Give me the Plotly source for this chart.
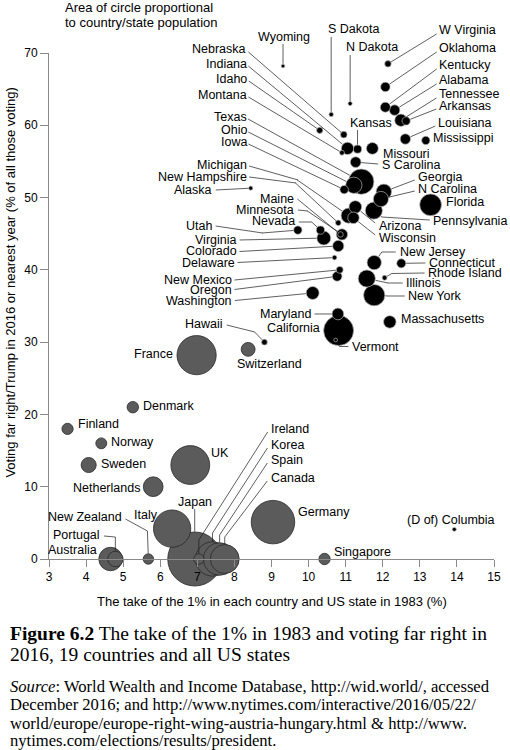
import math
import plotly.graph_objects as go

# ---------------- data ----------------
country_names = ["France", "Switzerland", "Denmark", "Finland", "Norway", "Sweden", "UK",
                 "Netherlands", "Italy", "Germany", "Australia", "Portugal", "New Zealand",
                 "Japan", "Ireland", "Korea", "Spain", "Canada", "Singapore"]
country_top1 = [6.98, 8.37, 5.26, 3.50, 4.41, 4.07, 6.81, 5.81, 6.32, 9.04, 4.66, 4.79, 5.68,
                6.93, 7.04, 7.41, 7.60, 7.74, 10.43]
country_vote = [28.2, 29.0, 21.0, 18.0, 16.0, 13.0, 13.0, 10.0, 4.2, 5.1, 0, 0, 0,
                0, 0, 0, 0, 0, 0]
country_pop = [66.9, 8.4, 5.7, 5.5, 5.2, 9.9, 65.6, 17.0, 60.6, 82.3, 24.1, 10.3, 4.7,
               127.0, 4.7, 51.2, 46.4, 36.3, 5.6]

state_names = ["Wyoming", "W Virginia", "Oklahoma", "Kentucky", "Alabama", "Tennessee", "Arkansas",
               "Louisiana", "Mississippi", "S Dakota", "N Dakota", "Nebraska", "Idaho", "Indiana",
               "Montana", "Kansas", "Missouri", "S Carolina", "Texas", "Ohio", "Iowa", "Alaska",
               "Georgia", "N Carolina", "Florida", "Pennsylvania", "Arizona", "Michigan", "Wisconsin",
               "New Hampshire", "Maine", "Minnesota", "Nevada", "Utah", "Virginia", "Colorado",
               "Delaware", "New Mexico", "Oregon", "Washington", "New Jersey", "Connecticut",
               "Rhode Island", "Illinois", "New York", "Massachusetts", "Maryland", "California",
               "Vermont", "Hawaii", "(D of) Columbia"]
state_top1 = [9.31, 12.14, 12.07, 12.07, 12.32, 12.49, 12.63,
              12.61, 13.16, 10.61, 11.12, 10.95, 10.30, 11.05,
              10.90, 11.32, 11.72, 11.27, 11.42, 11.22, 10.96, 8.44,
              12.03, 11.95, 13.29, 11.76, 11.26, 11.08, 11.21,
              10.80, 10.86, 10.90, 10.32, 9.71, 10.41, 10.80,
              10.70, 10.84, 10.77, 10.11, 11.77, 12.50,
              12.05, 11.57, 11.77, 12.19, 10.79, 10.81,
              10.73, 8.81, 13.93]
state_vote = [68.2, 68.5, 65.3, 62.5, 62.1, 60.7, 60.6,
              58.1, 57.9, 61.5, 63.0, 58.7, 59.3, 56.8,
              56.2, 56.7, 56.8, 54.9, 52.2, 51.7, 51.1, 51.3,
              50.8, 49.8, 49.0, 48.2, 48.7, 47.5, 47.2,
              46.5, 44.9, 44.9, 45.5, 45.5, 44.4, 43.3,
              41.7, 40.0, 39.1, 36.8, 41.0, 40.9,
              38.9, 38.8, 36.5, 32.8, 33.9, 31.6,
              30.3, 30.0, 4.1]
state_pop = [0.59, 1.83, 3.92, 4.44, 4.86, 6.65, 2.99,
             4.68, 2.99, 0.87, 0.76, 1.91, 1.68, 6.63,
             1.04, 2.91, 6.09, 4.96, 27.9, 11.6, 3.13, 0.74,
             10.3, 10.1, 20.6, 12.8, 6.93, 9.93, 5.78,
             1.33, 1.33, 5.52, 2.94, 3.05, 8.41, 5.54,
             0.95, 2.08, 4.09, 7.29, 8.94, 3.58,
             1.06, 12.8, 19.7, 6.81, 6.0, 39.2,
             0.62, 1.43, 0.68]

x_ticks = list(range(3, 16))
y_ticks = list(range(0, 71, 10))

# ---------------- layout constants (pixels) ----------------
W, H = 510, 750
L, R, T, B = 49, 501, 53, 559
XMIN, XMAX, YMIN, YMAX = 3, 15, 0, 70
SIZEREF = 127.0 / (2 * 27.0 ** 2)   # area mode: radius(px) = sqrt(pop / (2*sizeref))
SANS = "Liberation Sans, Arial, sans-serif"
SERIF = "Liberation Serif, Times New Roman, serif"
LABEL_FONT = dict(family=SANS, size=12.5, color="black")


def px_of(x):
    return L + (x - XMIN) / (XMAX - XMIN) * (R - L)


def py_of(y):
    return B - (y - YMIN) / (YMAX - YMIN) * (B - T)


def paper_x(px):
    return (px - L) / (R - L)


def paper_y(py):
    return (B - py) / (B - T)


def radius(pop):
    return math.sqrt(pop / (2 * SIZEREF))


# label placement: name, text x, text y (px), anchor, leader-line path (px) ending at the point
LABELS = [
    ("Wyoming", 288, 37, "center", [(286.7, 44)]),
    ("S Dakota", 330, 29.5, "left", [(335.6, 37)]),
    ("N Dakota", 349, 47.5, "left", [(354.9, 55)]),
    ("W Virginia", 443, 30, "left", [(442, 34)]),
    ("Oklahoma", 443, 48, "left", [(442, 52)]),
    ("Kentucky", 443, 65, "left", [(442, 69)]),
    ("Alabama", 443, 80, "left", [(442, 84)]),
    ("Tennessee", 443, 94.5, "left", [(442, 98)]),
    ("Arkansas", 443, 106.5, "left", [(442, 109)]),
    ("Louisiana", 442, 123, "left", [(441, 126)]),
    ("Mississippi", 437, 138, "left", []),
    ("Kansas", 353, 123.5, "left", [(362.4, 130)]),
    ("Nebraska", 251, 49.5, "right", [(253, 52)]),
    ("Indiana", 252, 63.5, "right", [(253, 66)]),
    ("Idaho", 252, 79, "right", [(253, 81)]),
    ("Montana", 252, 95, "right", [(253, 97)]),
    ("Texas", 252, 117, "right", [(253, 119)]),
    ("Ohio", 252, 130, "right", [(253, 132)]),
    ("Iowa", 252, 142, "right", [(253, 144)]),
    ("Missouri", 386, 154, "left", []),
    ("S Carolina", 385, 165, "left", [(383, 164)]),
    ("Michigan", 252, 165, "right", [(253, 166), (302, 180)]),
    ("New Hampshire", 252, 177, "right", [(253, 177), (300, 183)]),
    ("Alaska", 217, 189.5, "right", [(219, 190)]),
    ("Georgia", 422, 177, "left", [(420, 180)]),
    ("N Carolina", 422, 189, "left", [(420, 191)]),
    ("Florida", 450, 202.5, "left", []),
    ("Pennsylvania", 437, 221.5, "left", [(435, 220), (387, 217)]),
    ("Arizona", 382, 226, "left", [(380, 223)]),
    ("Wisconsin", 382, 237.5, "left", [(380, 235)]),
    ("Maine", 300, 198.5, "right", [(302, 199)]),
    ("Minnesota", 300, 210, "right", [(302, 210), (312, 211)]),
    ("Nevada", 301, 221.5, "right", [(303, 222), (316, 222)]),
    ("Utah", 217, 226, "right", [(219, 226), (266, 233)]),
    ("Virginia", 242, 239.5, "right", [(244, 240)]),
    ("Colorado", 242, 251, "right", [(244, 251.5)]),
    ("Delaware", 240, 262.5, "right", [(242, 262.5)]),
    ("New Mexico", 237, 280, "right", [(239, 280)]),
    ("Oregon", 237, 289.5, "right", [(239, 289.5)]),
    ("Washington", 237, 300.5, "right", [(239, 300.5)]),
    ("New Jersey", 403, 251.7, "left", [(401, 252), (387, 252)]),
    ("Connecticut", 433, 262.7, "left", [(431, 263)]),
    ("Rhode Island", 432, 272.7, "left", [(430, 273), (397, 273.5)]),
    ("Illinois", 410, 283.3, "left", [(408, 283), (393, 283)]),
    ("New York", 412, 296, "left", [(410, 296), (393, 296)]),
    ("Massachusetts", 405, 319, "left", []),
    ("Maryland", 317, 314, "right", [(319, 314)]),
    ("California", 326, 327.5, "right", []),
    ("Vermont", 355, 346.7, "left", [(353, 346.5), (344, 346.5)]),
    ("Hawaii", 228, 324, "right", [(230, 325), (258, 332)]),
    ("(D of) Columbia", 457, 520, "center", []),
    ("France", 177, 353.5, "right", []),
    ("Switzerland", 273, 364, "center", []),
    ("Denmark", 142, 406, "left", []),
    ("Finland", 76, 423.5, "left", []),
    ("Norway", 110, 441.7, "left", []),
    ("Sweden", 100, 464, "left", []),
    ("UK", 212, 452.7, "left", []),
    ("Netherlands", 143, 488.3, "right", []),
    ("Italy", 148, 515, "center", []),
    ("Germany", 300, 511.7, "left", []),
    ("New Zealand", 125, 517.3, "right", [(127, 519), (149, 531)]),
    ("Portugal", 103, 535, "right", [(105, 536), (116.4, 537)]),
    ("Australia", 100, 550, "right", []),
    ("Japan", 197, 501.7, "center", [(197, 509)]),
    ("Ireland", 272, 429, "left", [(270, 432), (201.2, 540)]),
    ("Korea", 272, 445, "left", [(270, 448), (215.1, 533)]),
    ("Spain", 272, 460, "left", [(270, 463), (222.3, 535)]),
    ("Canada", 272, 478.3, "left", [(270, 481), (227.5, 537)]),
    ("Singapore", 336, 551.7, "left", []),
]

# lookup of point data
points = {}
for n, x, y, p in zip(country_names, country_top1, country_vote, country_pop):
    points[n] = (x, y, p)
for n, x, y, p in zip(state_names, state_top1, state_vote, state_pop):
    points[n] = (x, y, p)

fig = go.Figure()


def add_bubbles(names, xs, ys, pops, fill, edge, width):
    order = sorted(range(len(names)), key=lambda i: -pops[i])
    fig.add_trace(go.Scatter(
        x=[xs[i] for i in order], y=[ys[i] for i in order],
        text=[names[i] for i in order],
        mode="markers", cliponaxis=False, hoverinfo="text",
        marker=dict(size=[pops[i] for i in order], sizemode="area", sizeref=SIZEREF,
                    sizemin=1.6, color=fill, opacity=1,
                    line=dict(color=edge, width=width)),
        showlegend=False))


add_bubbles(country_names, country_top1, country_vote, country_pop, "#5b5b5b", "#2a2a2a", 0.8)
add_bubbles(state_names, state_top1, state_vote, state_pop, "#000000", "#b4b4b4", 0.7)

annotations = []
LINE_COLOR = "#1a1a1a"
for name, tx, ty, anchor, path in LABELS:
    annotations.append(dict(text=name, xref="paper", yref="paper", x=paper_x(tx), y=paper_y(ty),
                            xanchor=anchor, yanchor="middle", showarrow=False, font=LABEL_FONT))
    if not path:
        continue
    x, y, p = points[name]
    target = (px_of(x), py_of(y))
    pts = list(path) + [target]
    for i in range(len(pts) - 1):
        (ax_, ay_), (hx, hy) = pts[i], pts[i + 1]
        last = i == len(pts) - 2
        a = dict(text="", showarrow=True, arrowhead=0, arrowwidth=0.7, arrowcolor=LINE_COLOR,
                 axref="pixel", ayref="pixel", ax=ax_ - hx, ay=ay_ - hy, borderpad=0, borderwidth=0)
        if last:
            a.update(xref="x", yref="y", x=x, y=y, standoff=radius(p) + 0.4)
        else:
            a.update(xref="paper", yref="paper", x=paper_x(hx), y=paper_y(hy), standoff=0)
        annotations.append(a)

# note
annotations.append(dict(text="Area of circle proportional", xref="paper", yref="paper",
                        x=paper_x(63), y=paper_y(7), xanchor="left", yanchor="middle",
                        showarrow=False, font=dict(family=SANS, size=13, color="black")))
annotations.append(dict(text="to country/state population", xref="paper", yref="paper",
                        x=paper_x(63), y=paper_y(22.5), xanchor="left", yanchor="middle",
                        showarrow=False, font=dict(family=SANS, size=13, color="black")))
# axis titles
annotations.append(dict(text="Voting far right/Trump in 2016 or nearest year (% of all those voting)",
                        xref="paper", yref="paper", x=paper_x(9), y=paper_y(283), textangle=-90,
                        xanchor="center", yanchor="middle", showarrow=False,
                        font=dict(family=SANS, size=13, color="black")))
annotations.append(dict(text="The take of the 1% in each country and US state in 1983 (%)",
                        xref="paper", yref="paper", x=paper_x(276), y=paper_y(601),
                        xanchor="center", yanchor="middle", showarrow=False,
                        font=dict(family=SANS, size=13, color="black")))
# caption
caption = [
    ("<b>Figure 6.2</b> The take of the 1% in 1983 and voting far right in", 633, 19.5),
    ("2016, 19 countries and all US states", 654, 19.5),
    ("<i>Source</i>: World Wealth and Income Database, http://wid.world/, accessed", 686, 16.6),
    ("December 2016; and http://www.nytimes.com/interactive/2016/05/22/", 704.5, 16.6),
    ("world/europe/europe-right-wing-austria-hungary.html &amp; http://www.", 723, 16.6),
    ("nytimes.com/elections/results/president.", 740.5, 16.6),
]
for txt, yy, sz in caption:
    annotations.append(dict(text=txt, xref="paper", yref="paper", x=paper_x(7), y=paper_y(yy),
                            xanchor="left", yanchor="middle", showarrow=False,
                            font=dict(family=SERIF, size=sz, color="black")))

AXIS_GREY = "#8a8a8a"
fig.update_layout(
    width=W, height=H,
    margin=dict(l=L, r=W - R, t=T, b=H - B, pad=0),
    paper_bgcolor="white", plot_bgcolor="white",
    font=dict(family=SANS, size=12, color="black"),
    annotations=annotations,
    xaxis=dict(range=[XMIN, XMAX], tickmode="array", tickvals=x_ticks,
               ticktext=[str(v) for v in x_ticks], ticks="outside", ticklen=7, tickwidth=1,
               tickcolor=AXIS_GREY, showline=True, linecolor=AXIS_GREY, linewidth=1,
               ticklabeloverflow="allow",
               showgrid=False, zeroline=False, tickfont=dict(family=SANS, size=12, color="black")),
    yaxis=dict(range=[YMIN, YMAX], tickmode="array", tickvals=y_ticks,
               ticktext=[str(v) for v in y_ticks], ticks="outside", ticklen=8, tickwidth=1,
               tickcolor=AXIS_GREY, showline=True, linecolor=AXIS_GREY, linewidth=1,
               showgrid=False, zeroline=False, tickfont=dict(family=SANS, size=12, color="black")),
)

fig.write_html("out.html", config={"displayModeBar": False},
               post_script="document.body.style.margin='0px';")
